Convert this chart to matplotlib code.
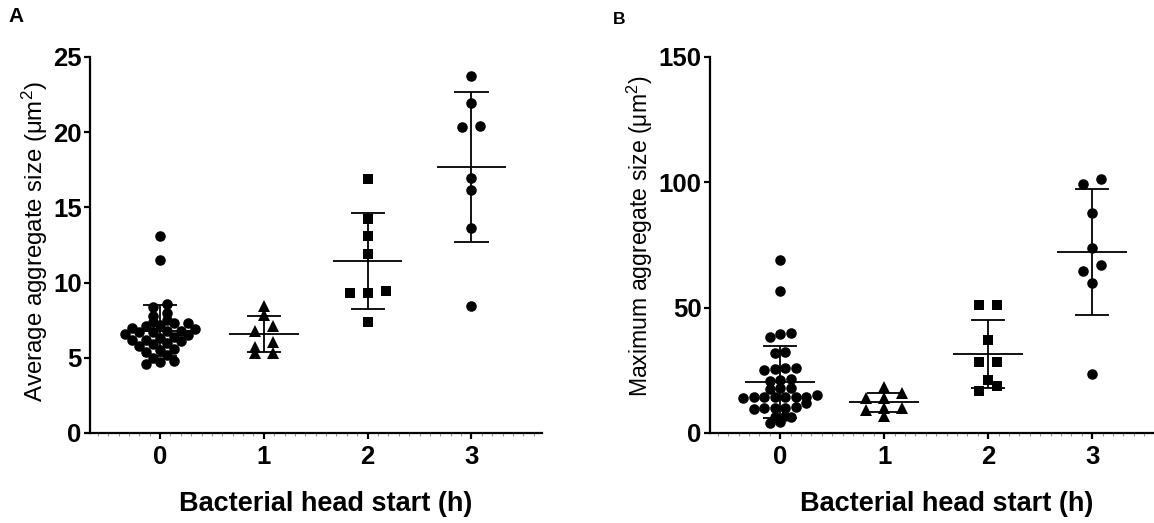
import numpy as np
import matplotlib
matplotlib.use("Agg")
import matplotlib.pyplot as plt
from matplotlib.ticker import MultipleLocator

plt.rcParams['font.family'] = ['Liberation Sans', 'DejaVu Sans']

# ---- data -------------------------------------------------------------
head_start = [0, 1, 2, 3]            # bacterial head start (h)
markers = ['o', '^', 's', 'o']

avg_h0 = [13.1, 11.5, 8.6, 8.4, 8.0, 7.8, 7.5, 7.4, 7.3, 7.3, 7.2, 7.1,
          7.0, 6.9, 6.8, 6.8, 6.7, 6.7, 6.6, 6.5, 6.4, 6.3, 6.2, 6.2,
          6.1, 6.0, 5.9, 5.8, 5.6, 5.5, 5.4, 5.2, 5.0, 4.8, 4.7, 4.6]
avg_h1 = [8.47, 7.87, 7.09, 6.76, 6.02, 5.71, 5.31, 5.31]
avg_h2 = [16.9, 14.24, 13.09, 11.87, 9.42, 9.31, 9.31, 7.38]
avg_h3 = [23.76, 21.91, 20.36, 20.42, 16.93, 16.16, 13.6, 8.42]

max_h0 = [69.0, 56.8, 39.8, 39.5, 38.4, 32.3, 32.0, 25.8, 25.8, 25.5,
          25.2, 21.5, 21.1, 20.8, 18.0, 17.8, 17.5, 15.0, 14.5, 14.4,
          14.4, 14.3, 14.3, 14.2, 14.1, 12.0, 10.2, 10.0, 10.0, 9.8,
          9.7, 6.6, 6.4, 6.2, 4.2, 4.0]
max_h1 = [15.8, 18.5, 13.8, 13.8, 9.9, 9.9, 9.2, 6.8]
max_h2 = [51.1, 51.1, 37.1, 28.2, 28.2, 21.1, 18.7, 16.8]
max_h3 = [99.3, 101.3, 87.6, 73.7, 64.6, 66.9, 60.0, 23.4]

avg_groups = [avg_h0, avg_h1, avg_h2, avg_h3]
max_groups = [max_h0, max_h1, max_h2, max_h3]

# ---- layout (pixels) ---------------------------------------------------
W, H, DPI = 1154, 523, 100
fig = plt.figure(figsize=(W / DPI, H / DPI), dpi=DPI)
fig.patch.set_facecolor('white')

XLIM = (-0.675, 3.68)


def px_axes(left, right, top, bottom):
    return fig.add_axes([left / W, 1 - bottom / H,
                         (right - left) / W, (bottom - top) / H])


def swarm_offsets(vals, px_per_unit, px_per_cat, bin_px, step_px):
    """Group values into horizontal rows and spread each row symmetrically."""
    vals = np.asarray(vals, float)
    order = np.argsort(vals, kind='stable')
    rows, current, start = [], [], None
    for i in order:
        y = vals[i] * px_per_unit
        if current and y - start > bin_px:
            rows.append(current)
            current = []
        if not current:
            start = y
        current.append(i)
    rows.append(current)
    offs = np.zeros(len(vals))
    for row in rows:
        n = len(row)
        for k, i in enumerate(row):
            offs[i] = (k - (n - 1) / 2) * step_px / px_per_cat
    return offs


def draw_panel(ax, groups, ylim, yticks, ylabel, ylabel_size,
               ylabel_xy, big_step):
    ax.set_xlim(*XLIM)
    ax.set_ylim(*ylim)
    fig.canvas.draw()
    bb = ax.get_window_extent()
    px_per_unit = bb.height / (ylim[1] - ylim[0])
    px_per_cat = bb.width / (XLIM[1] - XLIM[0])

    for x, vals, m in zip(head_start, groups, markers):
        vals = np.asarray(vals, float)
        step = 18 if len(vals) <= 10 else big_step
        offs = swarm_offsets(vals, px_per_unit, px_per_cat, 6, step)
        ms = {'o': 7.6, '^': 8.0, 's': 7.0}[m]
        ax.plot(x + offs, vals, linestyle='none', marker=m, color='black',
                markersize=ms, markeredgewidth=0, zorder=3, clip_on=False)
        mean, sd = vals.mean(), vals.std(ddof=1)
        ax.hlines(mean, x - 0.335, x + 0.335, color='black', lw=1.3, zorder=4)
        ax.vlines(x, mean - sd, mean + sd, color='black', lw=1.3, zorder=4)
        ax.hlines([mean - sd, mean + sd], x - 0.165, x + 0.165,
                  color='black', lw=1.3, zorder=4)

    for side in ('top', 'right'):
        ax.spines[side].set_visible(False)
    for side in ('left', 'bottom'):
        ax.spines[side].set_linewidth(1.6)
    ax.set_yticks(yticks)
    ax.set_xticks(head_start)
    ax.xaxis.set_minor_locator(MultipleLocator(0.1))
    ax.tick_params(axis='both', which='major', length=4, width=1.6,
                   labelsize=18.5, pad=2)
    ax.tick_params(axis='x', which='major', pad=5)
    ax.tick_params(axis='x', which='minor', length=2, width=0.8,
                   color='#9a9a9a')
    for lab in ax.get_xticklabels() + ax.get_yticklabels():
        lab.set_fontweight('bold')
    ax.set_xlabel('Bacterial head start (h)', fontsize=19.5,
                  fontweight='bold', va='top')
    ax.xaxis.set_label_coords(0.522, -0.153)
    ax.set_ylabel(ylabel, fontsize=ylabel_size)
    ax.yaxis.set_label_coords(*ylabel_xy)


axA = px_axes(90, 542, 57, 433)
draw_panel(axA, avg_groups, (0, 25), [0, 5, 10, 15, 20, 25],
           r'Average aggregate size ($\mathregular{\mu m^2}$)', 17.3,
           (-0.088, 0.51), 14)

axB = px_axes(710, 1163, 57, 433)
draw_panel(axB, max_groups, (0, 150), [0, 50, 100, 150],
           r'Maximum aggregate size ($\mathregular{\mu m^2}$)', 16.6,
           (-0.121, 0.524), 10.5)

fig.text(8 / W, 1 - 16 / H, 'A', fontsize=15, fontweight='bold',
         va='center', ha='left')
fig.text(613 / W, 1 - 19 / H, 'B', fontsize=12.5, fontweight='bold',
         va='center', ha='left')

fig.savefig('out.png', dpi=DPI, facecolor='white')
